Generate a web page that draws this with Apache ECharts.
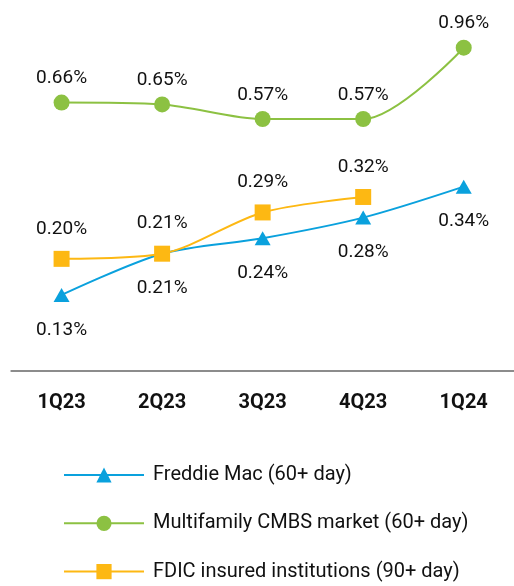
<!DOCTYPE html>
<html>
<head>
<meta charset="utf-8">
<script src="https://cdn.jsdelivr.net/npm/echarts@6/dist/echarts.min.js"></script>
<style>
  html, body { margin: 0; padding: 0; background: #fff; }
  #main { width: 514px; height: 586px; }
</style>
</head>
<body>
<div id="main"></div>
<script>
// quarters on the x axis
var quarters = ['1Q23', '2Q23', '3Q23', '4Q23', '1Q24'];
// delinquency rates, %
var freddie = [0.13, 0.21, 0.24, 0.28, 0.34];
var cmbs = [0.66, 0.65, 0.57, 0.57, 0.96];
var fdic = [0.20, 0.21, 0.29, 0.32, null];

var names = ['Freddie Mac (60+ day)', 'Multifamily CMBS market (60+ day)', 'FDIC insured institutions (90+ day)'];

var blue = '#0aa1dd', green = '#8cc142', orange = '#fdb813';

var myChart = echarts.init(document.getElementById('main'));

function pct(p) { return p.value.toFixed(2) + '%'; }

var lbl = {
  show: true,
  formatter: pct,
  fontFamily: 'Roboto',
  fontSize: 19,
  color: '#111'
};

myChart.setOption({
  animation: false,
  grid: { left: 11.3, right: -4.4, top: 20, bottom: 215 },
  xAxis: {
    type: 'category',
    data: quarters,
    boundaryGap: true,
    axisLine: { onZero: false, lineStyle: { color: '#8c8c8c', width: 2 } },
    axisTick: { alignWithLabel: true, length: 11, lineStyle: { color: '#8c8c8c', width: 2 } },
    axisLabel: {
      margin: 22,
      fontFamily: 'Roboto',
      fontWeight: 'bold',
      fontSize: 20,
      color: '#111'
    }
  },
  yAxis: [
    // left scale for Freddie / FDIC
    { type: 'value', show: false, min: -0.0175, max: 0.6632 },
    // separate scale for CMBS
    { type: 'value', show: false, min: -0.8085, max: 1.1116 }
  ],
  legend: {
    orient: 'vertical',
    left: 63,
    top: 465,
    padding: 0,
    itemWidth: 80,
    itemHeight: 19,
    itemGap: 28.3,
    textStyle: { fontFamily: 'Roboto', fontSize: 20, color: '#111', padding: [0, 0, 0, 4] },
    data: names
  },
  series: [
    {
      name: names[0],
      type: 'line',
      data: freddie,
      yAxisIndex: 0,
      smooth: 0.3,
      symbol: 'triangle',
      symbolSize: [16, 14],
      color: blue,
      lineStyle: { width: 2, color: blue },
      itemStyle: { color: blue },
      label: Object.assign({}, lbl, { position: 'bottom', distance: 18.5 })
    },
    {
      name: names[1],
      type: 'line',
      data: cmbs,
      yAxisIndex: 1,
      smooth: 0.3,
      symbol: 'circle',
      symbolSize: 16,
      color: green,
      lineStyle: { width: 2, color: green },
      itemStyle: { color: green },
      label: Object.assign({}, lbl, { position: 'top', distance: 6.5 })
    },
    {
      name: names[2],
      type: 'line',
      data: fdic,
      yAxisIndex: 0,
      smooth: 0.3,
      symbol: 'rect',
      symbolSize: 16,
      color: orange,
      lineStyle: { width: 2, color: orange },
      itemStyle: { color: orange },
      label: Object.assign({}, lbl, { position: 'top', distance: 12.5 })
    }
  ]
});
</script>
</body>
</html>
